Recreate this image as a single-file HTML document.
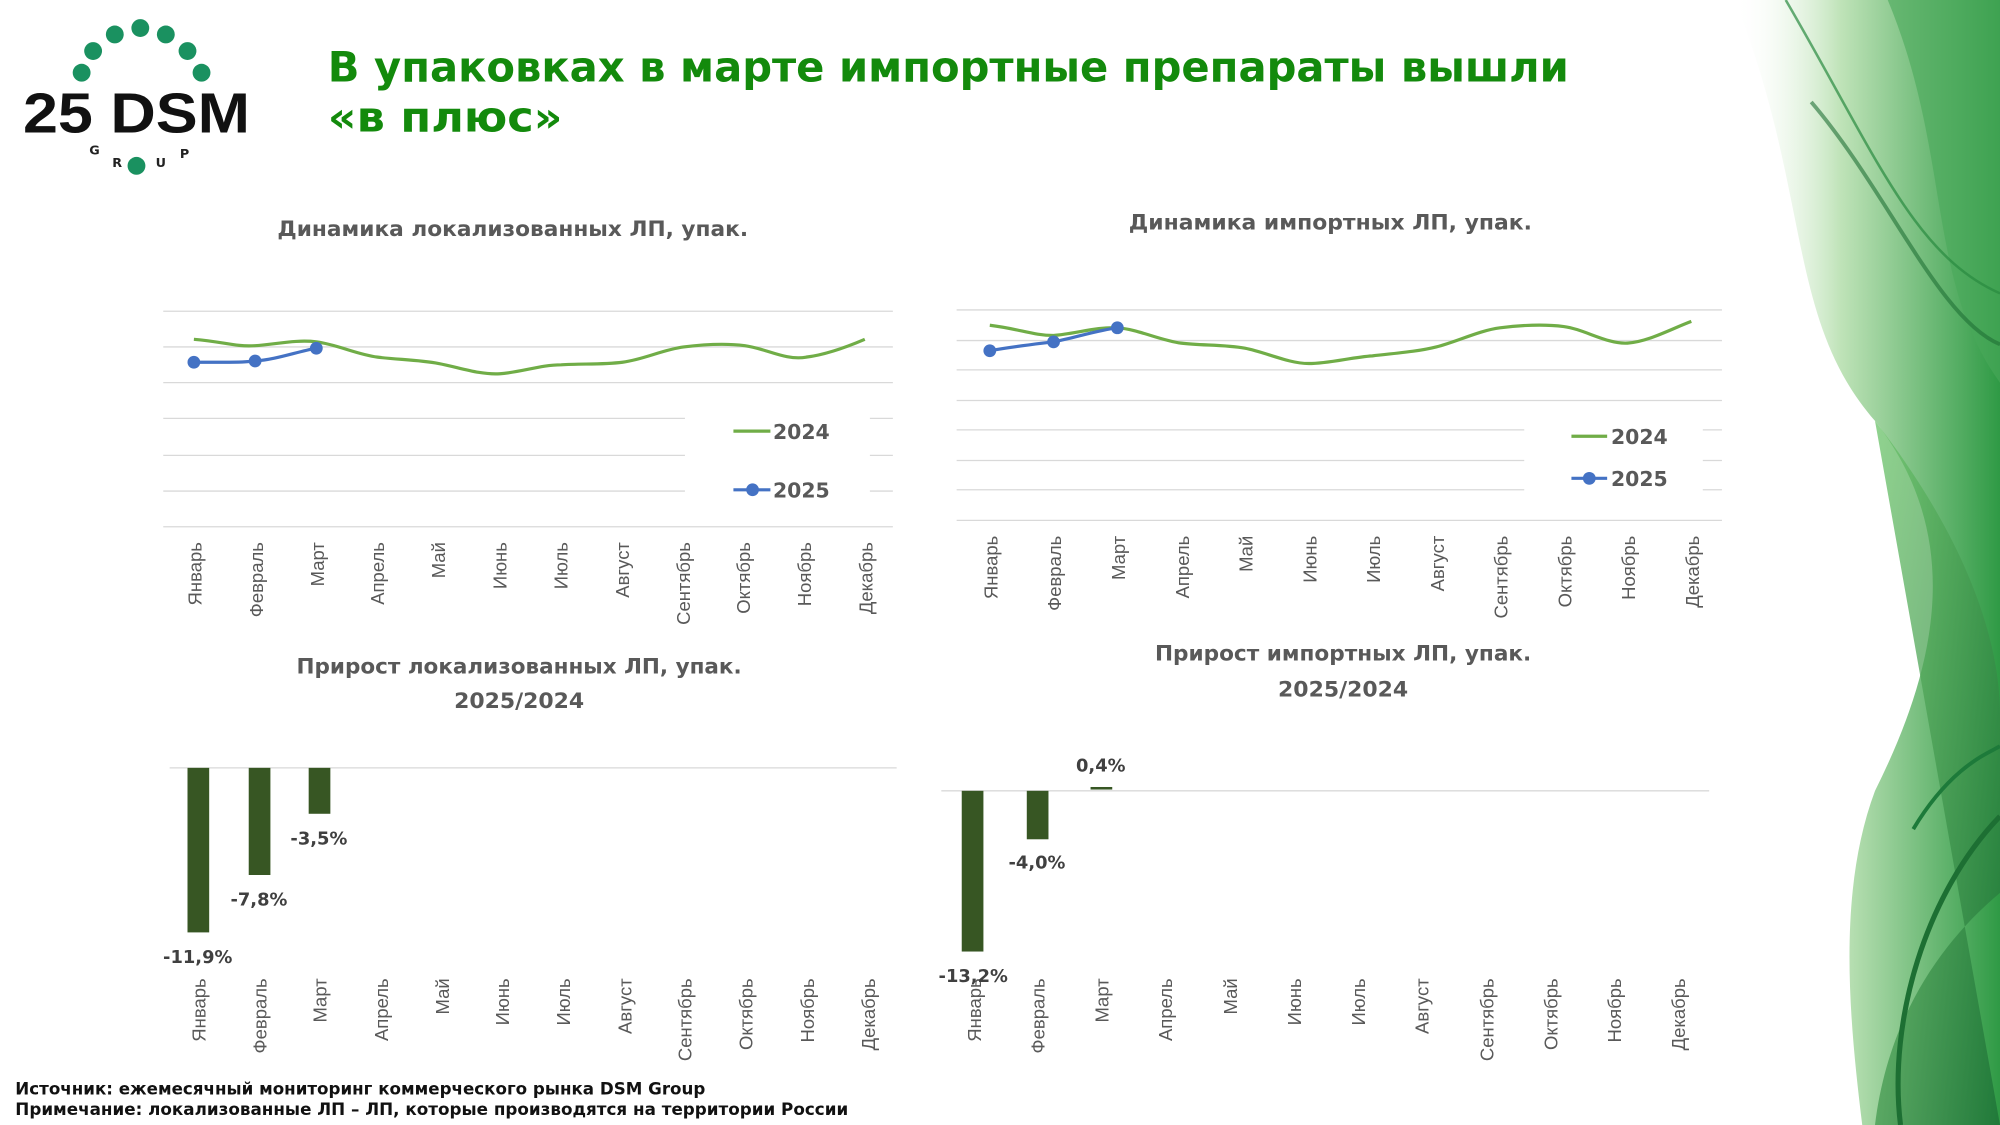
<!DOCTYPE html>
<html><head><meta charset="utf-8"><style>
html,body{margin:0;padding:0;background:#fff;}
svg{display:block;}
text{font-family:"DejaVu Sans","Liberation Sans",sans-serif;}
.tk text{font-family:"Liberation Sans",sans-serif;}
</style></head><body>
<svg width="2000" height="1125" viewBox="0 0 1568 882" xmlns="http://www.w3.org/2000/svg">
<defs>
<linearGradient id="g1" x1="0" y1="0" x2="1" y2="0">
<stop offset="0" stop-color="#ffffff" stop-opacity="0"/>
<stop offset="0.4" stop-color="#bfe3b8"/>
<stop offset="1" stop-color="#2f9a45"/>
</linearGradient>
<linearGradient id="g2" x1="0" y1="0" x2="1" y2="1">
<stop offset="0" stop-color="#6cc46a"/>
<stop offset="1" stop-color="#1b6e35"/>
</linearGradient>
</defs>
<path d="M1360 0 C1420 150 1400 250 1470 330 C1540 420 1520 520 1470 620 C1440 700 1450 800 1460 882 L1568 882 L1568 0 Z" fill="url(#g1)"/>
<path d="M1480 0 C1530 120 1510 220 1568 300 L1568 0 Z" fill="#4aa85a" opacity="0.6"/>
<path d="M1470 330 C1540 420 1568 500 1568 560 L1568 700 C1520 740 1480 800 1470 882 L1568 882 Z" fill="url(#g2)" opacity="0.75"/>
<path d="M1500 650 C1530 600 1560 590 1568 585" stroke="#1d7a3a" stroke-width="3" fill="none"/>
<path d="M1400 0 C1470 120 1500 200 1568 230" stroke="#2a8a40" stroke-width="2" fill="none" opacity="0.7"/>
<path d="M1420 80 C1480 150 1520 250 1568 270" stroke="#1f6f35" stroke-width="3" fill="none" opacity="0.6"/>
<path d="M1490 882 C1480 800 1510 700 1568 640" stroke="#1d6f33" stroke-width="4" fill="none"/>

<g fill="#1a9160">
<circle cx="110" cy="22" r="7"/><circle cx="90" cy="27" r="7"/><circle cx="130" cy="27" r="7"/>
<circle cx="73" cy="40" r="7"/><circle cx="147" cy="40" r="7"/><circle cx="64" cy="57" r="7"/><circle cx="158" cy="57" r="7"/>
<circle cx="107" cy="130" r="7"/>
</g>
<text x="107" y="104" font-size="44" font-weight="bold" text-anchor="middle" fill="#111" textLength="178" lengthAdjust="spacingAndGlyphs" style="font-family:'Liberation Sans',sans-serif">25 DSM</text>
<text x="70" y="121" font-size="10" font-weight="bold" fill="#222">G</text>
<text x="88" y="131" font-size="10" font-weight="bold" fill="#222">R</text>
<text x="122" y="131" font-size="10" font-weight="bold" fill="#222">U</text>
<text x="141" y="124" font-size="10" font-weight="bold" fill="#222">P</text>

<text x="257" y="64" font-size="33" font-weight="bold" fill="#138a0c" textLength="973" lengthAdjust="spacingAndGlyphs">В упаковках в марте импортные препараты вышли</text>
<text x="257" y="103" font-size="33" font-weight="bold" fill="#138a0c" textLength="184" lengthAdjust="spacingAndGlyphs">«в плюс»</text>

<g font-size="17" font-weight="bold" fill="#595959" text-anchor="middle">
<text x="402" y="185" textLength="369" lengthAdjust="spacingAndGlyphs">Динамика локализованных ЛП, упак.</text>
<text x="1043" y="180" textLength="316" lengthAdjust="spacingAndGlyphs">Динамика импортных ЛП, упак.</text>
<text x="407" y="528" textLength="349" lengthAdjust="spacingAndGlyphs">Прирост локализованных ЛП, упак.</text>
<text x="407" y="555" textLength="102" lengthAdjust="spacingAndGlyphs">2025/2024</text>
<text x="1053" y="518" textLength="295" lengthAdjust="spacingAndGlyphs">Прирост импортных ЛП, упак.</text>
<text x="1053" y="546" textLength="102" lengthAdjust="spacingAndGlyphs">2025/2024</text>
</g>

<g stroke="#d9d9d9" stroke-width="1">
<line x1="128" y1="244" x2="700" y2="244"/><line x1="128" y1="272" x2="700" y2="272"/>
<line x1="128" y1="300" x2="700" y2="300"/><line x1="128" y1="328" x2="537" y2="328"/>
<line x1="128" y1="357" x2="537" y2="357"/><line x1="128" y1="385" x2="537" y2="385"/>
<line x1="682" y1="328" x2="700" y2="328"/><line x1="682" y1="357" x2="700" y2="357"/><line x1="682" y1="385" x2="700" y2="385"/>
<line x1="128" y1="413" x2="700" y2="413"/>
</g>
<path d="M152 266 C176 268 184 272 200 271 C216 270 232 266 248 268 C264 270 280 278 296 280 C312 282 328 282 344 285 C360 288 376 294 392 293 C408 292 424 286 440 286 C456 285 472 286 488 284 C504 282 520 274 536 272 C552 270 568 269 584 271 C600 273 616 283 632 280 C648 278 664 272 678 266" stroke="#70ad47" stroke-width="2.5" fill="none"/>
<path d="M152 284 L176 284 C186 284 192 284 200 283 C216 282 232 276 248 273" stroke="#4472c4" stroke-width="2.5" fill="none"/>
<g fill="#4472c4"><circle cx="152" cy="284" r="5"/><circle cx="200" cy="283" r="5"/><circle cx="248" cy="273" r="5"/></g>
<line x1="575" y1="338" x2="604" y2="338" stroke="#70ad47" stroke-width="2.5"/>
<text x="606" y="344" font-size="16" font-weight="bold" fill="#595959">2024</text>
<line x1="575" y1="384" x2="604" y2="384" stroke="#4472c4" stroke-width="2.5"/><circle cx="590" cy="384" r="5" fill="#4472c4"/>
<text x="606" y="390" font-size="16" font-weight="bold" fill="#595959">2025</text>

<g stroke="#d9d9d9" stroke-width="1">
<line x1="750" y1="243" x2="1350" y2="243"/><line x1="750" y1="267" x2="1350" y2="267"/>
<line x1="750" y1="290" x2="1350" y2="290"/><line x1="750" y1="314" x2="1350" y2="314"/>
<line x1="750" y1="337" x2="1195" y2="337"/><line x1="750" y1="361" x2="1195" y2="361"/><line x1="750" y1="384" x2="1195" y2="384"/>
<line x1="1335" y1="337" x2="1350" y2="337"/><line x1="1335" y1="361" x2="1350" y2="361"/><line x1="1335" y1="384" x2="1350" y2="384"/>
<line x1="750" y1="408" x2="1350" y2="408"/>
</g>
<path d="M776 255 C800 258 810 263 826 263 C842 262 860 256 876 257 C892 258 910 267 926 269 C942 271 960 270 976 273 C992 276 1010 285 1026 285 C1042 285 1060 280 1076 279 C1092 277 1110 276 1126 272 C1142 268 1160 259 1176 257 C1192 255 1210 254 1226 256 C1242 258 1260 270 1276 269 C1292 268 1310 258 1326 252" stroke="#70ad47" stroke-width="2.5" fill="none"/>
<path d="M776 275 C792 272 810 270 826 268 C842 265 860 259 876 257" stroke="#4472c4" stroke-width="2.5" fill="none"/>
<g fill="#4472c4"><circle cx="776" cy="275" r="5"/><circle cx="826" cy="268" r="5"/><circle cx="876" cy="257" r="5"/></g>
<line x1="1232" y1="342" x2="1260" y2="342" stroke="#70ad47" stroke-width="2.5"/>
<text x="1263" y="348" font-size="16" font-weight="bold" fill="#595959">2024</text>
<line x1="1232" y1="375" x2="1260" y2="375" stroke="#4472c4" stroke-width="2.5"/><circle cx="1246" cy="375" r="5" fill="#4472c4"/>
<text x="1263" y="381" font-size="16" font-weight="bold" fill="#595959">2025</text>

<g class="tk" font-size="14.5" fill="#595959" text-anchor="end">
<text transform="translate(158,425) rotate(-90)">Январь</text>
<text transform="translate(206,425) rotate(-90)">Февраль</text>
<text transform="translate(254,425) rotate(-90)">Март</text>
<text transform="translate(301,425) rotate(-90)">Апрель</text>
<text transform="translate(349,425) rotate(-90)">Май</text>
<text transform="translate(397,425) rotate(-90)">Июнь</text>
<text transform="translate(445,425) rotate(-90)">Июль</text>
<text transform="translate(493,425) rotate(-90)">Август</text>
<text transform="translate(541,425) rotate(-90)">Сентябрь</text>
<text transform="translate(588,425) rotate(-90)">Октябрь</text>
<text transform="translate(636,425) rotate(-90)">Ноябрь</text>
<text transform="translate(684,425) rotate(-90)">Декабрь</text>

<text transform="translate(782,420) rotate(-90)">Январь</text>
<text transform="translate(832,420) rotate(-90)">Февраль</text>
<text transform="translate(882,420) rotate(-90)">Март</text>
<text transform="translate(932,420) rotate(-90)">Апрель</text>
<text transform="translate(982,420) rotate(-90)">Май</text>
<text transform="translate(1032,420) rotate(-90)">Июнь</text>
<text transform="translate(1082,420) rotate(-90)">Июль</text>
<text transform="translate(1132,420) rotate(-90)">Август</text>
<text transform="translate(1182,420) rotate(-90)">Сентябрь</text>
<text transform="translate(1232,420) rotate(-90)">Октябрь</text>
<text transform="translate(1282,420) rotate(-90)">Ноябрь</text>
<text transform="translate(1332,420) rotate(-90)">Декабрь</text>

<text transform="translate(161,767) rotate(-90)">Январь</text>
<text transform="translate(209,767) rotate(-90)">Февраль</text>
<text transform="translate(256,767) rotate(-90)">Март</text>
<text transform="translate(304,767) rotate(-90)">Апрель</text>
<text transform="translate(352,767) rotate(-90)">Май</text>
<text transform="translate(399,767) rotate(-90)">Июнь</text>
<text transform="translate(447,767) rotate(-90)">Июль</text>
<text transform="translate(495,767) rotate(-90)">Август</text>
<text transform="translate(542,767) rotate(-90)">Сентябрь</text>
<text transform="translate(590,767) rotate(-90)">Октябрь</text>
<text transform="translate(638,767) rotate(-90)">Ноябрь</text>
<text transform="translate(686,767) rotate(-90)">Декабрь</text>

<text transform="translate(769,767) rotate(-90)">Январь</text>
<text transform="translate(819,767) rotate(-90)">Февраль</text>
<text transform="translate(869,767) rotate(-90)">Март</text>
<text transform="translate(919,767) rotate(-90)">Апрель</text>
<text transform="translate(970,767) rotate(-90)">Май</text>
<text transform="translate(1020,767) rotate(-90)">Июнь</text>
<text transform="translate(1070,767) rotate(-90)">Июль</text>
<text transform="translate(1120,767) rotate(-90)">Август</text>
<text transform="translate(1171,767) rotate(-90)">Сентябрь</text>
<text transform="translate(1221,767) rotate(-90)">Октябрь</text>
<text transform="translate(1271,767) rotate(-90)">Ноябрь</text>
<text transform="translate(1321,767) rotate(-90)">Декабрь</text>
</g>

<line x1="133" y1="602" x2="703" y2="602" stroke="#d9d9d9"/>
<g fill="#375623">
<rect x="147" y="602" width="17" height="129"/>
<rect x="195" y="602" width="17" height="84"/>
<rect x="242" y="602" width="17" height="36"/>
</g>
<g font-size="14" font-weight="bold" fill="#404040" text-anchor="middle">
<text x="155" y="755">-11,9%</text>
<text x="203" y="710">-7,8%</text>
<text x="250" y="662">-3,5%</text>
</g>
<line x1="738" y1="620" x2="1340" y2="620" stroke="#d9d9d9"/>
<g fill="#375623">
<rect x="754" y="620" width="17" height="126"/>
<rect x="805" y="620" width="17" height="38"/>
<rect x="855" y="617" width="17" height="2"/>
</g>
<g font-size="14" font-weight="bold" fill="#404040" text-anchor="middle">
<text x="763" y="770">-13,2%</text>
<text x="813" y="681">-4,0%</text>
<text x="863" y="605">0,4%</text>
</g>

<text x="12" y="858" font-size="13" font-weight="bold" fill="#111" textLength="541" lengthAdjust="spacingAndGlyphs">Источник: ежемесячный мониторинг коммерческого рынка DSM Group</text>
<text x="12" y="874" font-size="13" font-weight="bold" fill="#111" textLength="653" lengthAdjust="spacingAndGlyphs">Примечание: локализованные ЛП – ЛП, которые производятся на территории России</text>
</svg>
</body></html>
